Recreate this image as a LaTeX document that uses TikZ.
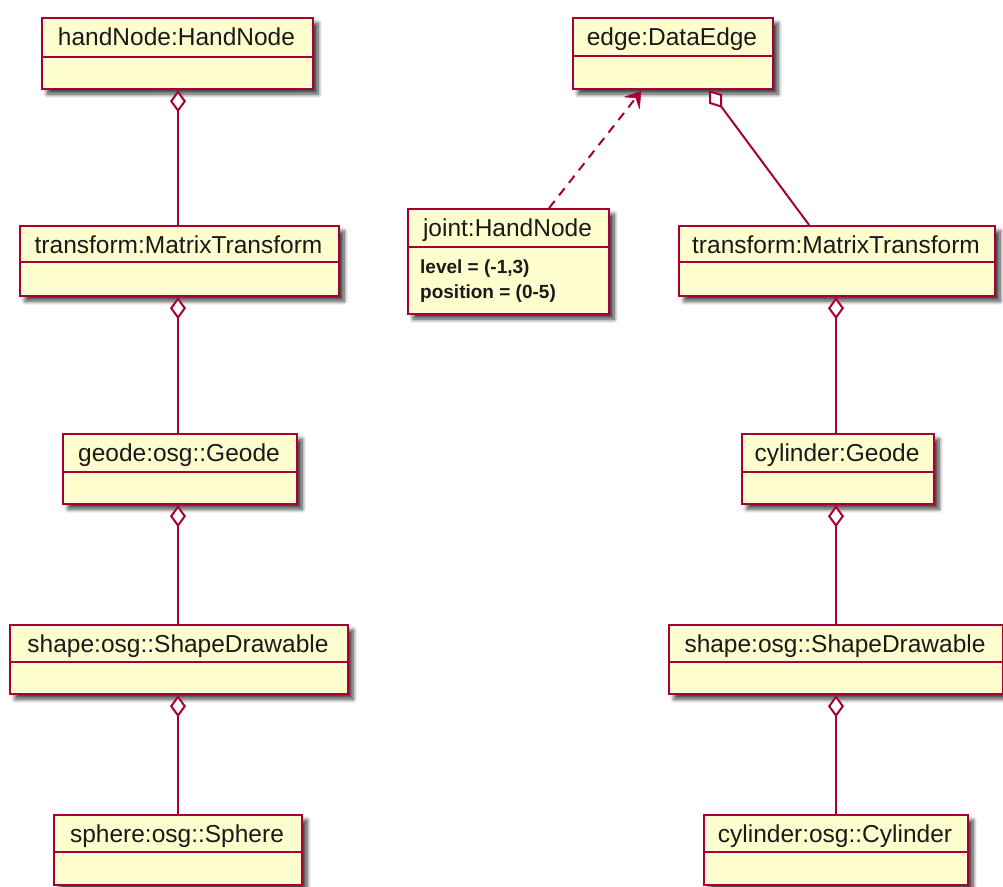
\documentclass[tikz,border=0pt]{standalone}
\usepackage{fontspec}
\setmainfont{Liberation Sans}
\usetikzlibrary{arrows.meta,shadows,shadows.blur}
\definecolor{umlfill}{HTML}{FEFECE}
\definecolor{umlline}{HTML}{A80036}
\definecolor{umltext}{HTML}{1A1A1A}
\tikzset{
  objbox/.style={draw=umlline, fill=umlfill, line width=2.2pt, rectangle, inner sep=0pt, anchor=north west,
    blur shadow={shadow xshift=5pt, shadow yshift=-5pt, shadow blur steps=10, shadow blur radius=4pt, shadow blur extra rounding=0pt, shadow opacity=75}},
  objline/.style={draw=umlline, line width=2.2pt},
  titletext/.style={font=\fontsize{24.5}{29}\selectfont, text=umltext, inner sep=0pt, anchor=base},
  attrtext/.style={font=\fontsize{19}{23}\selectfont\bfseries, text=umltext, inner sep=0pt, anchor=base west},
  agg/.style={draw=umlline, line width=2pt, {Diamond[fill=white, length=22pt, width=16pt, line width=2pt]}-},
  dep/.style={draw=umlline, line width=2pt, dash pattern=on 9pt off 7pt, -{Stealth[length=16pt, width=21pt, inset=7pt, line width=0.6pt, round]}}
}
\newcommand\umlobj[7]{%
  \node[objbox, minimum width={(#4-#2)*1pt}, minimum height={(#5-#3)*1pt}] (#1) at (#2,#3) {};
  \node[titletext] (#1-t) at ({(#2+#4)/2},{#3+28}) {#7};
  \draw[objline] (#1.west |- 0,#6) -- (#1.east |- 0,#6);
}
\begin{document}
\begin{tikzpicture}[x=1pt,y=-1pt]
\useasboundingbox (0,0) rectangle (1003,886);
\clip (0,0) rectangle (1003,886);
% left column
\umlobj{hand}{41}{17}{312}{88}{57}{handNode:HandNode}
\umlobj{ltrans}{19}{225}{338}{295}{262}{transform:MatrixTransform}
\umlobj{geode}{62}{433}{296}{503}{472}{geode:osg::Geode}
\umlobj{lshape}{9}{624}{347}{693}{662}{shape:osg::ShapeDrawable}
\umlobj{sphere}{53}{814}{301}{884}{852}{sphere:osg::Sphere}
% right column
\umlobj{edge}{572}{17}{772}{88}{56}{edge:DataEdge}
\umlobj{joint}{407}{208}{608}{313}{247}{joint:HandNode}
\node[attrtext] (joint-a1) at (420,273) {level = (-1,3)};
\node[attrtext] (joint-a2) at (420,298) {position = (0-5)};
\umlobj{rtrans}{678}{225}{994}{295}{262}{transform:MatrixTransform}
\umlobj{cylgeode}{741}{433}{933}{503}{472}{cylinder:Geode}
\umlobj{rshape}{668}{624}{1002}{693}{662}{shape:osg::ShapeDrawable}
\umlobj{cyl}{703}{814}{967}{884}{852}{cylinder:osg::Cylinder}
% connectors left (column axis x = 178)
\draw[agg] (hand.south -| 178,0) -- (ltrans.north -| 178,0);
\draw[agg] (ltrans.south -| 178,0) -- (geode.north -| 178,0);
\draw[agg] (geode.south -| 178,0) -- (lshape.north -| 178,0);
\draw[agg] (lshape.south -| 178,0) -- (sphere.north -| 178,0);
% connectors right (column axis x = 836)
\draw[agg] ([xshift=36pt]edge.south) -- ([xshift=-28pt]rtrans.north);
\draw[dep] ([xshift=40.5pt]joint.north) -- ([xshift=-32pt,yshift=-1pt]edge.south);
\draw[agg] (rtrans.south -| 836,0) -- (cylgeode.north -| 836,0);
\draw[agg] (cylgeode.south -| 836,0) -- (rshape.north -| 836,0);
\draw[agg] (rshape.south -| 836,0) -- (cyl.north -| 836,0);
\end{tikzpicture}
\end{document}
